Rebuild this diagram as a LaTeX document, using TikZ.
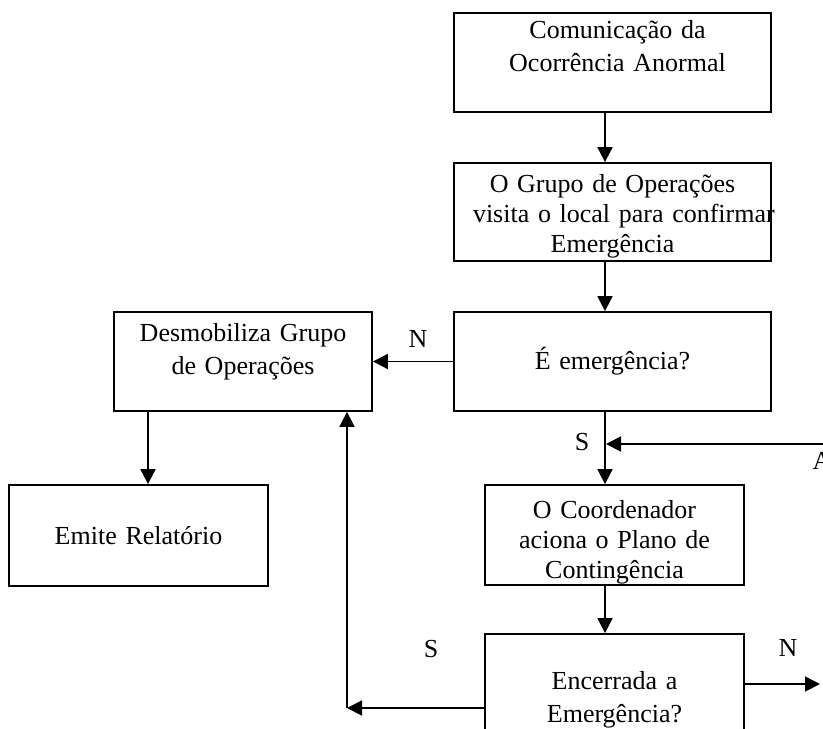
\documentclass[tikz,border=0pt]{standalone}
\usepackage{fontspec}
\setmainfont{Liberation Serif}
\usetikzlibrary{arrows.meta}
\tikzstyle{caixa}=[draw, rectangle, inner sep=0pt, align=center]
\tikzstyle{seta}=[-{Triangle[length=15pt,width=15pt]}]
\tikzstyle{rotulo}=[inner sep=0pt]

\begin{document}
\begin{tikzpicture}[x=1pt, y=-1pt, line width=1.8pt, font=\fontsize{26}{33}\selectfont]
  \useasboundingbox (0,0) rectangle (823,729);
  \clip (0,0) rectangle (823,729);
  \coordinate (eixo) at (605,0);

  \node[caixa, text width=317pt, minimum height=99pt] (comunicacao) at (612.5,62.5)
    {\hspace*{10pt}Comunicação da\\\hspace*{10pt}Ocorrência Anormal\\\mbox{}};
  \node[caixa, inner xsep=19pt, text width=279pt, minimum height=98pt,
        font=\fontsize{26}{30}\selectfont] (visita) at (612.5,212)
    {\rule{0pt}{26pt}O Grupo de Operações\\\mbox{visita o local para confirmar}\\Emergência};
  \node[caixa, text width=317pt, minimum height=99pt] (emergencia) at (612.5,361.5)
    {É emergência?};
  \node[caixa, text width=258pt, minimum height=99pt] (desmobiliza) at (243,361.5)
    {Desmobiliza Grupo\\de Operações\\[-8pt]\mbox{}};
  \node[caixa, text width=259pt, minimum height=101pt] (relatorio) at (138.5,535.5)
    {Emite Relatório};
  \node[caixa, text width=259pt, minimum height=100pt, font=\fontsize{26}{30}\selectfont]
    (coordenador) at (614.5,535)
    {\rule{0pt}{33pt}O Coordenador\\aciona o Plano de\\Contingência};
  \node[caixa, text width=259pt, minimum height=132pt] (encerrada) at (614.5,700)
    {Encerrada a\\Emergência?};

  \coordinate (conectorA) at (830,444);
  \coordinate (saidaN) at (820,684);
  \coordinate (retorno) at (347,708);
  \node[rotulo] (letraA) at (822,461) {A};

  % fluxo principal
  \draw[seta] (comunicacao.south -| eixo) -- (visita.north -| eixo);
  \draw[seta] (visita.south -| eixo) -- (emergencia.north -| eixo);
  \draw[seta] (emergencia.south -| eixo) -- (coordenador.north -| eixo);
  \draw[seta] (coordenador.south -| eixo) -- (encerrada.north -| eixo);
  \draw[seta] (conectorA) -- ([xshift=1pt]conectorA -| eixo);

  % desvios
  \draw[seta] (emergencia.west) -- (desmobiliza.east);
  \draw[seta] ([xshift=-95pt]desmobiliza.south) -- ([xshift=-95pt]relatorio.north -| desmobiliza.south);
  \draw[seta] (encerrada.east |- saidaN) -- (saidaN);
  \draw[seta] (encerrada.west |- retorno) -- (retorno);
  \draw[seta] (retorno) -- (desmobiliza.south -| retorno);

  \node[rotulo] (rotN1) at (418,339) {N};
  \node[rotulo] (rotS1) at (582,442) {S};
  \node[rotulo] (rotS2) at (431,649) {S};
  \node[rotulo] (rotN2) at (788,648) {N};
\end{tikzpicture}
\end{document}
